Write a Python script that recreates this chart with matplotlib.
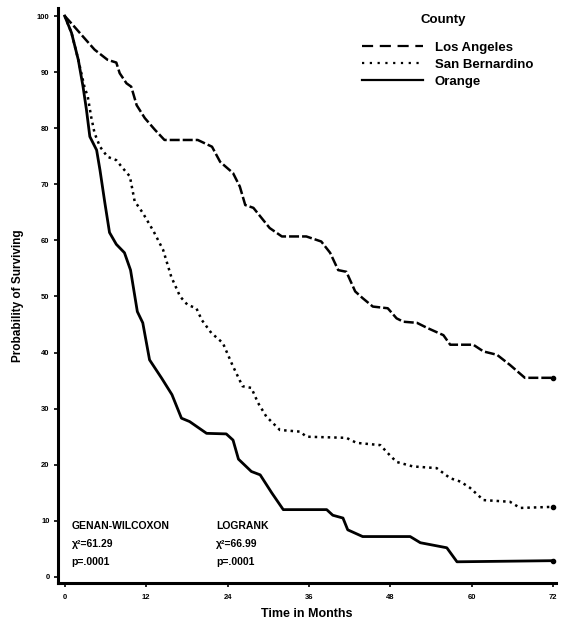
import matplotlib
matplotlib.use("Agg")
from matplotlib import pyplot as plt
from matplotlib.lines import Line2D

plt.rcParams['font.family'] = ['Liberation Sans', 'DejaVu Sans']
plt.rcParams['font.weight'] = 'bold'

# survival curves (months, percent surviving)
la_t = [0, 1.2, 2.5, 4.4, 6.3, 7.6, 8.1, 9.1, 9.8, 10.6, 11.8, 13.3, 14.7, 19.6, 21.7, 22.9,
        24.8, 25.8, 26.6, 27.8, 30.2, 32.0, 35.6, 37.8, 39.1, 40.3, 41.5, 42.8, 43.9, 45.4,
        47.6, 48.9, 49.9, 51.9, 53.4, 55.8, 56.8, 60.2, 61.7, 63.7, 65.6, 67.8, 72]
la_s = [100, 98.4, 96.6, 94, 92.2, 91.7, 89.8, 88, 87.4, 84.1, 81.8, 79.7, 77.9, 77.9, 76.7, 74,
        72, 69.6, 66.3, 65.8, 62.2, 60.7, 60.7, 59.8, 57.8, 54.7, 54.4, 50.9, 49.7, 48.2,
        47.9, 46.1, 45.5, 45.3, 44.4, 43.1, 41.4, 41.4, 40.2, 39.6, 37.8, 35.5, 35.5]

sb_t = [0, 1, 2, 2.9, 3.4, 3.9, 4.4, 5.2, 6.3, 7.6, 8.4, 9.6, 10.3, 11.5, 13.1, 14.5, 15.7,
        17.0, 18.1, 19.4, 20.2, 21.6, 23.3, 24.7, 26.2, 27.5, 28.5, 29.7, 31.7, 34.7, 35.6,
        41.5, 43.0, 46.5, 47.9, 48.9, 51.3, 54.8, 56.8, 58.3, 59.7, 61.7, 65.6, 67.1, 72]
sb_s = [100, 97, 92.2, 87.4, 85.6, 82, 79.1, 76.7, 74.9, 74.3, 73.1, 71.4, 67, 64.9, 61.6, 58.3,
        53.5, 50, 48.5, 47.9, 45.8, 43.5, 41.7, 37.8, 34, 33.7, 31, 28.6, 26.2, 25.9, 25,
        24.8, 23.9, 23.5, 21.7, 20.5, 19.7, 19.4, 17.6, 17, 15.9, 13.7, 13.4, 12.3, 12.5]

or_t = [0, 1, 2, 2.7, 3.2, 3.7, 4.7, 5.2, 5.9, 6.6, 7.6, 8.8, 9.7, 10.7, 11.5, 12.5, 14.3, 15.8,
        17.2, 18.4, 20.9, 23.8, 24.8, 25.6, 27.5, 28.8, 30.5, 32.2, 38.6, 39.5, 41.0, 41.7,
        43.9, 50.9, 52.4, 56.3, 57.8, 72]
or_s = [100, 97, 92.2, 87.4, 83.3, 78.5, 76.1, 72.5, 66.8, 61.4, 59.3, 57.8, 54.7, 47.3, 45.3,
        38.7, 35.4, 32.5, 28.3, 27.7, 25.6, 25.5, 24.4, 21, 18.8, 18.2, 15, 12, 12, 11, 10.5,
        8.4, 7.2, 7.2, 6.1, 5.2, 2.7, 2.9]

counties = ["Los Angeles", "San Bernardino", "Orange"]
xticks = [0, 12, 24, 36, 48, 60, 72]
yticks = [0, 10, 20, 30, 40, 50, 60, 70, 80, 90, 100]

fig = plt.figure(figsize=(5.68, 6.27), dpi=100)
ax = fig.add_axes([0.102, 0.070, 0.877, 0.917])

ax.plot(la_t, la_s, color='black', lw=1.8, linestyle=(0, (4, 1.2)),
        marker='o', markersize=3, markevery=[-1])
ax.plot(sb_t, sb_s, color='black', lw=1.8, linestyle=(0, (1, 1.6)),
        marker='o', markersize=3, markevery=[-1])
ax.plot(or_t, or_s, color='black', lw=2.0, linestyle='-',
        marker='o', markersize=3, markevery=[-1])

ax.set_xlim(-1.0, 72.4)
ax.set_ylim(-1.1, 101.4)
ax.set_xticks(xticks)
ax.set_yticks(yticks)
ax.tick_params(labelsize=5.5, width=1.2, length=3, direction='out', pad=3)
ax.tick_params(axis='x', pad=5)
for s in ['top', 'right']:
    ax.spines[s].set_visible(False)
for s in ['left', 'bottom']:
    ax.spines[s].set_linewidth(2.2)

ax.set_xlabel("Time in Months", fontsize=9, fontweight='bold', labelpad=5)
ax.set_ylabel("Probability of Surviving", fontsize=8.5, fontweight='bold', labelpad=9)

# legend, drawn with its own handles
handles = [Line2D([], [], color='black', lw=1.6, linestyle=(0, (5, 3))),
           Line2D([], [], color='black', lw=1.6, linestyle=(0, (1, 2.5))),
           Line2D([], [], color='black', lw=1.6)]
leg = ax.legend(handles, counties, loc='upper left', bbox_to_anchor=(0.6, 0.951),
                frameon=False, fontsize=9.5, handlelength=4.6, handletextpad=0.9,
                labelspacing=0.36, borderaxespad=0)
ax.text(0.728, 0.99, "County", transform=ax.transAxes, fontsize=9.5,
        fontweight='bold', va='top', ha='left')

# test statistics
ax.text(1.0, 8.5, "GENAN-WILCOXON", fontsize=7.5, fontweight='bold')
ax.text(1.0, 5.3, "χ²=61.29", fontsize=7.5, fontweight='bold')
ax.text(1.0, 2.1, "p=.0001", fontsize=7.5, fontweight='bold')
ax.text(22.3, 8.5, "LOGRANK", fontsize=7.5, fontweight='bold')
ax.text(22.3, 5.3, "χ²=66.99", fontsize=7.5, fontweight='bold')
ax.text(22.3, 2.1, "p=.0001", fontsize=7.5, fontweight='bold')

fig.savefig("out.png", dpi=100)
